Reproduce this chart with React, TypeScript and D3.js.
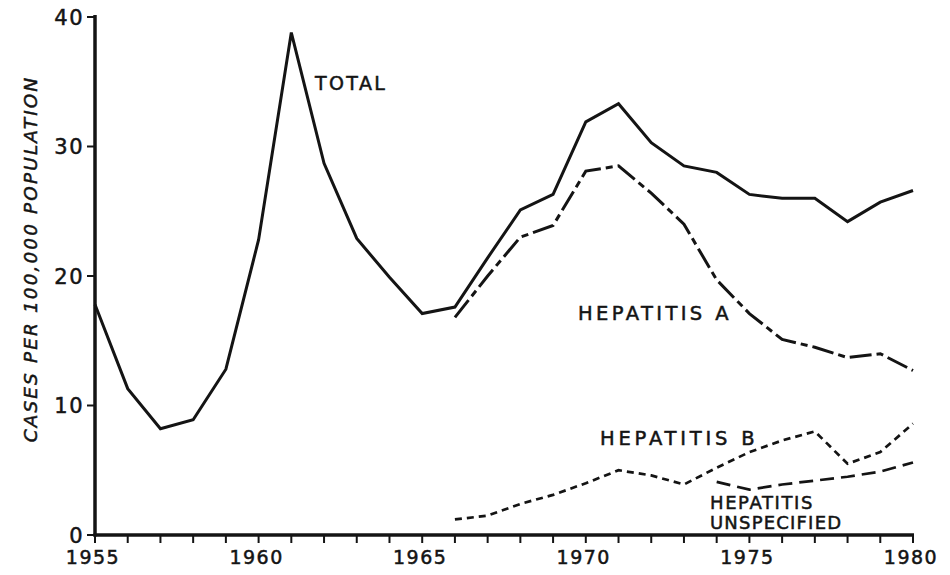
import React from "react";
import * as d3 from "d3";

const totalYears = [1955,1956,1957,1958,1959,1960,1961,1962,1963,1964,1965,1966,1967,1968,1969,1970,1971,1972,1973,1974,1975,1976,1977,1978,1979,1980];
const totalValues = [17.8,11.3,8.2,8.9,12.8,22.8,38.8,28.7,22.9,19.9,17.1,17.6,21.4,25.1,26.3,31.9,33.3,30.3,28.5,28.0,26.3,26.0,26.0,24.2,25.7,26.6];

const hepAYears = [1966,1967,1968,1969,1970,1971,1972,1973,1974,1975,1976,1977,1978,1979,1980];
const hepAValues = [16.8,20.0,23.0,23.9,28.1,28.5,26.4,24.0,19.7,17.1,15.1,14.5,13.7,14.0,12.7];

const hepBYears = [1966,1967,1968,1969,1970,1971,1972,1973,1974,1975,1976,1977,1978,1979,1980];
const hepBValues = [1.2,1.5,2.4,3.1,4.0,5.0,4.6,3.9,5.2,6.4,7.3,8.0,5.5,6.4,8.6];

const unspecYears = [1974,1975,1976,1977,1978,1979,1980];
const unspecValues = [4.1,3.5,3.9,4.2,4.5,4.9,5.6];

const yTicks = [0,10,20,30,40];
const xLabelYears = [1955,1960,1965,1970,1975,1980];
const yTitle = "CASES PER 100,000 POPULATION";

const W = 950;
const H = 575;
const FONT = "'DejaVu Sans', 'Liberation Sans', sans-serif";
const INK = "#141414";

export default function App() {
  const x = d3.scaleLinear().domain([1955, 1980]).range([95, 913]);
  const y = d3.scaleLinear().domain([0, 40]).range([535, 17]);
  const line = d3.line<[number, number]>().x(d => x(d[0])).y(d => y(d[1]));
  const pts = (ys: number[], vs: number[]) => ys.map((yr, i) => [yr, vs[i]] as [number, number]);
  const allYears = d3.range(1955, 1981);
  const txt = { fontFamily: FONT, fill: INK, stroke: INK, strokeWidth: 0.5 } as const;

  return (
    <svg width={W} height={H} style={{ position: "absolute", left: 0, top: 0, background: "#fff" }}>
      <rect x={0} y={0} width={W} height={H} fill="#fff" />
      {/* axes */}
      <line x1={x(1955)} x2={x(1955)} y1={y(40) - 2} y2={y(0) + 1.5} stroke={INK} strokeWidth={3.5} />
      <line x1={x(1955) - 1.5} x2={x(1980) + 1} y1={y(0)} y2={y(0)} stroke={INK} strokeWidth={3.5} />
      {yTicks.map(t => (
        <g key={"yt" + t}>
          <line x1={x(1955) - 8} x2={x(1955)} y1={y(t)} y2={y(t)} stroke={INK} strokeWidth={2} />
          <text {...txt} x={x(1955) - 11} y={y(t)} dy="0.36em" textAnchor="end" fontSize={21} letterSpacing={1.5}>{t}</text>
        </g>
      ))}
      {allYears.map(yr => (
        <line key={"xt" + yr} x1={x(yr)} x2={x(yr)} y1={y(0)} y2={y(0) + 8} stroke={INK} strokeWidth={2} />
      ))}
      {xLabelYears.map(yr => (
        <text {...txt} key={"xl" + yr} x={x(yr) - 2} y={564} textAnchor="middle" fontSize={19} letterSpacing={1.5}>{yr}</text>
      ))}
      <text {...txt} transform={`translate(37,${259}) rotate(-90)`} textAnchor="middle" fontSize={18.5} fontStyle="italic" letterSpacing={2.1}>{yTitle}</text>

      {/* series */}
      <path d={line(pts(totalYears, totalValues)) || ""} fill="none" stroke={INK} strokeWidth={3} strokeLinejoin="miter" />
      <path d={line(pts(hepAYears, hepAValues)) || ""} fill="none" stroke={INK} strokeWidth={3} strokeDasharray="22,5,7,5" />
      <path d={line(pts(hepBYears, hepBValues)) || ""} fill="none" stroke={INK} strokeWidth={2.7} strokeDasharray="7,5" />
      <path d={line(pts(unspecYears, unspecValues)) || ""} fill="none" stroke={INK} strokeWidth={2.7} strokeDasharray="14,7" />

      {/* labels */}
      <text {...txt} x={315} y={90} fontSize={19} letterSpacing={2.4}>TOTAL</text>
      <text {...txt} x={578} y={320} fontSize={19.5} letterSpacing={3.4}>HEPATITIS A</text>
      <text {...txt} x={600} y={445} fontSize={19.5} letterSpacing={3.8}>HEPATITIS B</text>
      <text {...txt} x={710} y={509} fontSize={18} letterSpacing={1.6}>HEPATITIS</text>
      <text {...txt} x={710} y={529} fontSize={18} letterSpacing={1.2}>UNSPECIFIED</text>
    </svg>
  );
}
